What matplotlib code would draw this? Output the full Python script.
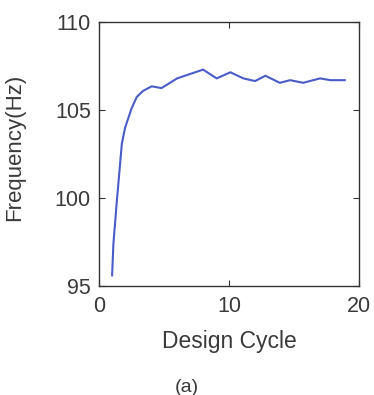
import numpy as np
import matplotlib.pyplot as plt

plt.rcParams['font.family'] = ['Liberation Sans', 'DejaVu Sans']

# values
cycle = [1.0, 1.1, 1.35, 1.75, 2.0, 2.5, 2.9, 3.4, 4.05, 4.8, 6.0, 7.0, 8.0,
         9.05, 10.1, 11.1, 12.0, 12.8, 13.9, 14.7, 15.7, 17.0, 17.8, 18.9]
freq = [95.6, 97.4, 99.7, 103.1, 104.0, 105.1, 105.75, 106.1, 106.35, 106.25,
        106.8, 107.05, 107.3, 106.8, 107.15, 106.8, 106.65, 106.95, 106.55,
        106.7, 106.55, 106.8, 106.7, 106.7]

xticks = [0, 10, 20]
yticks = [95, 100, 105, 110]

fig = plt.figure(figsize=(3.74, 3.95), dpi=100)
ax = fig.add_axes([0.265, 0.276, 0.695, 0.668])
ax.plot(cycle, freq, color='#4a5cc8', linewidth=1.5)

ax.set_xlim(0, 20)
ax.set_ylim(95, 110)
ax.set_xticks(xticks)
ax.set_yticks(yticks)
ax.tick_params(direction='in', top=True, right=True, length=4, width=0.8,
               colors='#333333', labelsize=15.5, labelcolor='#3a3a3a')
ax.tick_params(axis='y', pad=6)
ax.tick_params(axis='x', pad=7)
for s in ax.spines.values():
    s.set_color('#333333')
    s.set_linewidth(1.0)

ax.set_xlabel('Design Cycle', fontsize=16.5, color='#3a3a3a')
ax.set_ylabel('Frequency(Hz)', fontsize=16, color='#3a3a3a')
ax.xaxis.set_label_coords(0.5, -0.165)
ax.yaxis.set_label_coords(-0.285, 0.525)
fig.text(0.5, 0.008, '(a)', ha='center', fontsize=14, color='#3a3a3a')

fig.savefig('out.png', dpi=100)
